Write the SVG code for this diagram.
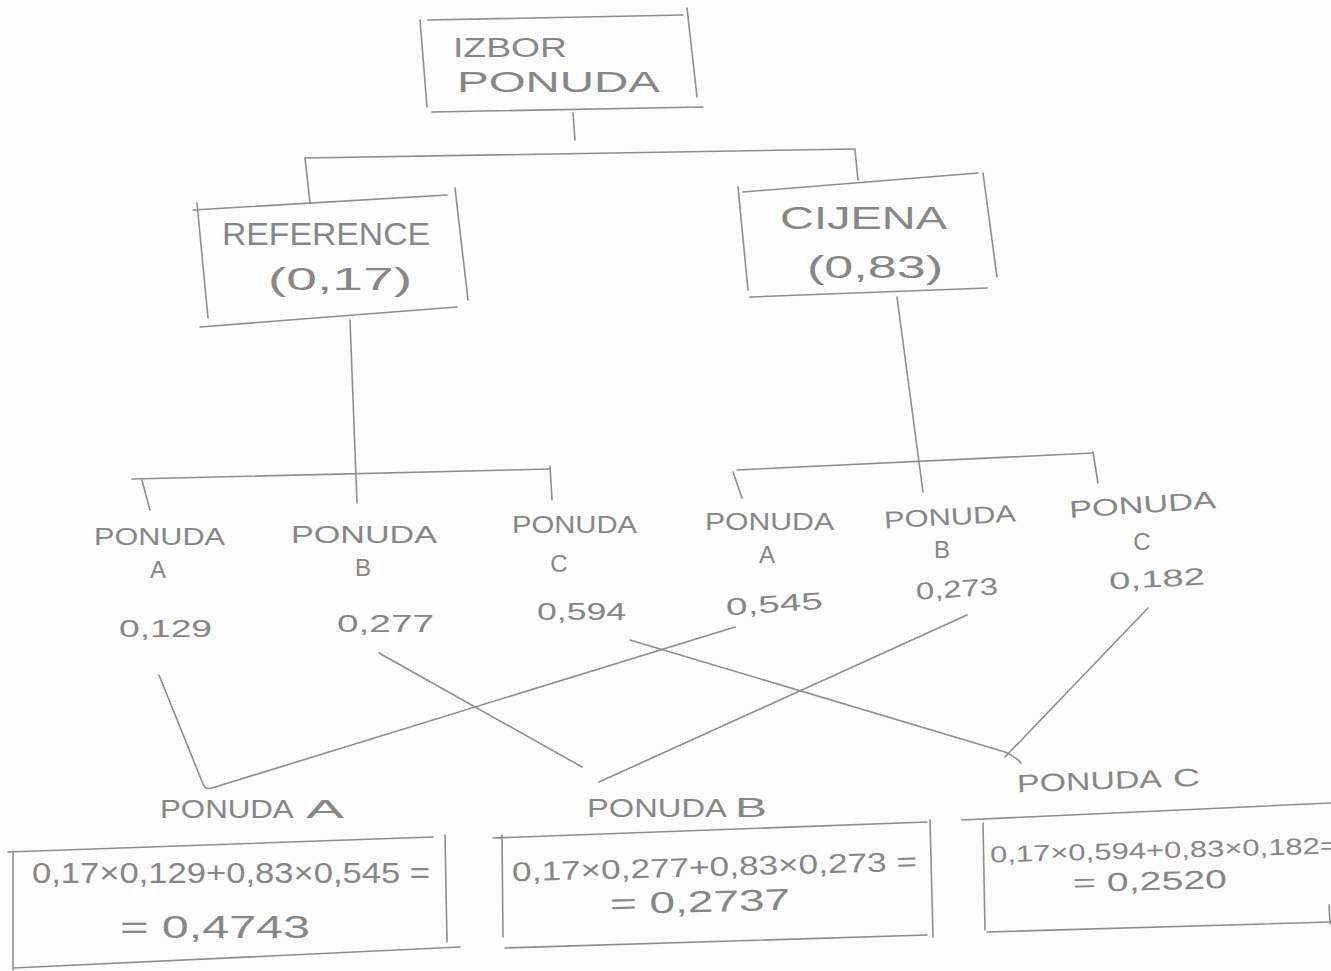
<svg xmlns="http://www.w3.org/2000/svg" width="1331" height="971" viewBox="0 0 1331 971">
<style>
.ln{fill:none;stroke:#8e8e8e;stroke-width:1.6;stroke-linecap:round;stroke-linejoin:round}
.t{font-family:"Liberation Sans","DejaVu Sans",sans-serif;fill:#878787}
.big{font-size:31px}
.mid{font-size:24px}
.res{font-size:29px}
.sm{font-size:23px}
</style>
<rect x="0" y="0" width="1331" height="971" fill="#fcfcfc"/>
<g id="connectors" class="ln">
<path d="M573,113 L575,140"/>
<path d="M305,158 L855,149"/>
<path d="M305,158 L310,203"/>
<path d="M855,150 L858,180"/>
<path d="M350,320 L357,503"/>
<path d="M132,479 L550,469"/>
<path d="M142,480 Q146,496 150,510"/>
<path d="M550,466 L552,500"/>
<path d="M897,297 L923,492"/>
<path d="M737,470 L1093,453"/>
<path d="M733,472 L742,498"/>
<path d="M1093,452 L1098,483"/>
<path d="M159,675 L203,784 Q205,790 212,788 L735,627"/>
<path d="M379,653 L582,767"/>
<path d="M599,782 L967,615"/>
<path d="M630,640 L1005,752 Q1016,757 1021,763"/>
<path d="M1005,757 L1148,608"/>
</g>
<g id="n-root">
<path class="ln" d="M428,20 L683,15 M687,8 L697,97 M420,20 L427,107 M432,112 L703,107"/>
<text class="t" x="453" y="57" font-size="27" textLength="114" lengthAdjust="spacingAndGlyphs">IZBOR</text>
<text class="t" x="457" y="92" font-size="29" textLength="203" lengthAdjust="spacingAndGlyphs">PONUDA</text>
</g>
<g id="n-reference">
<path class="ln" d="M193,210 L447,195 M197,203 L208,318 M455,188 L468,300 M200,327 L457,307"/>
<text class="t big" x="222" y="245" textLength="208" lengthAdjust="spacingAndGlyphs">REFERENCE</text>
<text class="t big" x="268" y="290" textLength="144" lengthAdjust="spacingAndGlyphs">(0,17)</text>
</g>
<g id="n-cijena">
<path class="ln" d="M743,192 L978,173 M738,187 L748,290 M983,173 L997,277 M750,297 L987,288"/>
<text class="t big" x="780" y="229" textLength="167" lengthAdjust="spacingAndGlyphs">CIJENA</text>
<text class="t big" x="807" y="278" textLength="136" lengthAdjust="spacingAndGlyphs">(0,83)</text>
</g>
<g id="n-ref-a">
<text class="t mid" x="94" y="545" textLength="131" lengthAdjust="spacingAndGlyphs">PONUDA</text>
<text class="t mid" x="158" y="578" text-anchor="middle">A</text>
<text class="t mid" x="119" y="637" textLength="93" lengthAdjust="spacingAndGlyphs">0,129</text>
</g>
<g id="n-ref-b">
<text class="t mid" x="291" y="543" textLength="146" lengthAdjust="spacingAndGlyphs">PONUDA</text>
<text class="t mid" x="363" y="576" text-anchor="middle">B</text>
<text class="t mid" x="337" y="632" textLength="97" lengthAdjust="spacingAndGlyphs">0,277</text>
</g>
<g id="n-ref-c">
<text class="t mid" x="512" y="533" textLength="125" lengthAdjust="spacingAndGlyphs">PONUDA</text>
<text class="t mid" x="559" y="572" text-anchor="middle">C</text>
<text class="t mid" x="537" y="620" textLength="89" lengthAdjust="spacingAndGlyphs">0,594</text>
</g>
<g id="n-cij-a">
<text class="t mid" x="705" y="530" textLength="129" lengthAdjust="spacingAndGlyphs">PONUDA</text>
<text class="t mid" x="767" y="563" text-anchor="middle">A</text>
<text class="t mid" x="726" y="612" textLength="97" lengthAdjust="spacingAndGlyphs" transform="rotate(-4 775 605)">0,545</text>
</g>
<g id="n-cij-b">
<text class="t mid" x="884" y="525" textLength="132" lengthAdjust="spacingAndGlyphs" transform="rotate(-3 950 518)">PONUDA</text>
<text class="t mid" x="942" y="558" text-anchor="middle">B</text>
<text class="t mid" x="916" y="597" textLength="82" lengthAdjust="spacingAndGlyphs" transform="rotate(-4 957 590)">0,273</text>
</g>
<g id="n-cij-c">
<text class="t mid" x="1069" y="513" textLength="147" lengthAdjust="spacingAndGlyphs" transform="rotate(-4 1142 505)">PONUDA</text>
<text class="t mid" x="1142" y="550" text-anchor="middle">C</text>
<text class="t mid" x="1109" y="587" textLength="96" lengthAdjust="spacingAndGlyphs" transform="rotate(-3 1157 580)">0,182</text>
</g>
<g id="n-result-a">
<text class="t" y="818" font-size="25"><tspan x="160" textLength="132" lengthAdjust="spacingAndGlyphs">PONUDA</tspan> <tspan x="306" textLength="38" lengthAdjust="spacingAndGlyphs">A</tspan></text>
<path class="ln" d="M8,852 L433,837 M445,835 L447,942 M13,851 L13,970 M13,968 L460,947"/>
<text class="t res" x="32" y="883" textLength="398" lengthAdjust="spacingAndGlyphs">0,17×0,129+0,83×0,545 =</text>
<text class="t" x="120" y="938" font-size="31" textLength="190" lengthAdjust="spacingAndGlyphs">= 0,4743</text>
</g>
<g id="n-result-b">
<text class="t" y="817" font-size="25"><tspan x="587" textLength="138" lengthAdjust="spacingAndGlyphs">PONUDA</tspan> <tspan x="735" font-size="28" textLength="32" lengthAdjust="spacingAndGlyphs">B</tspan></text>
<path class="ln" d="M493,838 L927,822 M930,820 L933,937 M502,835 L503,937 M505,948 L927,935"/>
<text class="t" x="512" y="876" font-size="27" textLength="405" lengthAdjust="spacingAndGlyphs" transform="rotate(-1.5 714 866)">0,17×0,277+0,83×0,273 =</text>
<text class="t" x="610" y="912" font-size="30" textLength="180" lengthAdjust="spacingAndGlyphs" transform="rotate(-1.5 700 902)">= 0,2737</text>
</g>
<g id="n-result-c">
<text class="t" y="789" font-size="25" transform="rotate(-2 1108 780)"><tspan x="1017" textLength="143" lengthAdjust="spacingAndGlyphs">PONUDA</tspan> <tspan x="1173" textLength="27" lengthAdjust="spacingAndGlyphs">C</tspan></text>
<path class="ln" d="M962,820 L1331,803 M983,823 L985,930 M987,932 L1331,922 M1329,905 L1330,924"/>
<text class="t sm" x="990" y="858" textLength="348" lengthAdjust="spacingAndGlyphs" transform="rotate(-1.5 1160 850)">0,17×0,594+0,83×0,182=</text>
<text class="t" x="1073" y="890" font-size="26" textLength="154" lengthAdjust="spacingAndGlyphs" transform="rotate(-1.5 1150 882)">= 0,2520</text>
</g>
</svg>
